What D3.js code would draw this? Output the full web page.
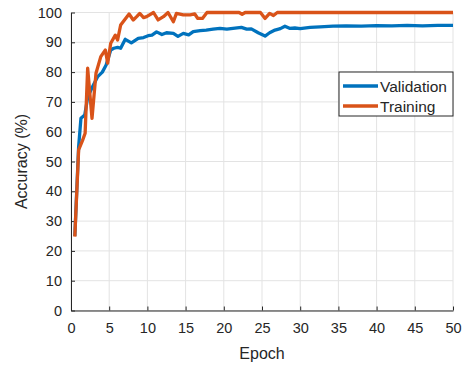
<!DOCTYPE html>
<html lang="en">
    <head>
        <meta charset="utf-8">
        <title>Accuracy vs Epoch</title>
        <script type="text/javascript" src="https://cdn.jsdelivr.net/npm/d3@7/dist/d3.min.js"></script>
    </head>

    <style>
        body { margin: 0; background: white; }
        text { font-family: "Liberation Sans", Arial, sans-serif; fill: #262626; }
    </style>

    <body>
        <script type="text/javascript">

            // Validation accuracy
            var valEpochs = [0.5, 1.0, 1.3, 1.8, 2.2, 2.8, 3.5, 4.1, 4.6, 5.2, 5.6, 6.1, 6.5, 7.1, 7.9,
                             8.8, 9.5, 10.1, 10.6, 11.2, 11.9, 12.5, 13.4, 14.0, 14.7, 15.4, 16.0, 16.9,
                             17.7, 18.6, 19.5, 20.4, 21.2, 22.3, 23.0, 23.6, 24.5, 25.4, 26.0, 26.7, 27.4,
                             28.0, 28.6, 29.3, 30.0, 31.3, 32.6, 34.3, 36, 38, 40, 42, 44, 46, 48, 50];
            var valAcc = [25, 55, 64.5, 65.6, 71.7, 75, 78.5, 80, 82.4, 87.4, 88, 88.3, 88, 91, 89.8,
                          91.3, 91.6, 92.2, 92.4, 93.5, 92.6, 93.2, 93, 92, 93, 92.5, 93.6, 93.9,
                          94.1, 94.4, 94.7, 94.4, 94.7, 95, 94.4, 94.5, 93.2, 92.1, 93.2, 94.1, 94.6,
                          95.4, 94.7, 94.8, 94.6, 95, 95.2, 95.4, 95.5, 95.4, 95.6, 95.5, 95.7, 95.5, 95.7, 95.7];

            // Training accuracy
            var trainEpochs = [0.5, 1.0, 1.5, 1.85, 2.18, 2.75, 3.27, 3.9, 4.5, 4.8, 5.2, 5.8, 6.1, 6.5,
                               6.85, 7.6, 8.15, 8.6, 9.0, 9.5, 9.9, 10.8, 11.4, 12.1, 12.7, 13.4, 13.8,
                               14.7, 15.6, 16.2, 16.6, 17.2, 17.8, 22.0, 22.4, 22.8, 24.8, 25.4, 26.0,
                               26.5, 27.0, 50];
            var trainAcc = [24.8, 53.9, 57, 59.5, 81.3, 64.5, 79.6, 85.2, 87.4, 83, 89.7, 92.4, 90.8, 95.8,
                            97, 99.5, 97.5, 98.6, 99.7, 98.3, 98.6, 100, 97.5, 98.6, 100, 96.9, 99.7,
                            99.2, 99.2, 99.5, 98, 98, 100, 100, 99.4, 100, 100, 98, 99.7,
                            99, 100, 100];

            var xTicks = [0, 5, 10, 15, 20, 25, 30, 35, 40, 45, 50];
            var yTicks = [0, 10, 20, 30, 40, 50, 60, 70, 80, 90, 100];
            var seriesNames = ["Validation", "Training"];
            var seriesColors = ["#0072BD", "#D95319"];

            var w = 462, h = 365;
            // plot box (note: "top" is a reserved window property, so use other names)
            var pLeft = 71, pRight = 453, pTop = 12.5, pBottom = 310.5;

            var svg = d3.select("body").append("svg").attr("width", w).attr("height", h);

            var x = d3.scaleLinear().domain([0, 50]).range([pLeft, pRight]);
            var y = d3.scaleLinear().domain([0, 100]).range([pBottom, pTop]);

            // grid lines
            svg.append("g").selectAll("line").data(xTicks).enter().append("line")
                .attr("x1", function(d) { return x(d); })
                .attr("x2", function(d) { return x(d); })
                .attr("y1", pTop).attr("y2", pBottom)
                .attr("stroke", "#e3e3e3").attr("stroke-width", 1);
            svg.append("g").selectAll("line").data(yTicks).enter().append("line")
                .attr("y1", function(d) { return y(d); })
                .attr("y2", function(d) { return y(d); })
                .attr("x1", pLeft).attr("x2", pRight)
                .attr("stroke", "#e3e3e3").attr("stroke-width", 1);

            // axes (ticks point inward like MATLAB)
            var xAxis = d3.axisBottom(x).tickValues(xTicks).tickSizeInner(-4).tickSizeOuter(0).tickPadding(12);
            var yAxis = d3.axisLeft(y).tickValues(yTicks).tickSizeInner(-4).tickSizeOuter(0).tickPadding(9);

            var gx = svg.append("g").attr("transform", "translate(0," + pBottom + ")").call(xAxis);
            var gy = svg.append("g").attr("transform", "translate(" + pLeft + ",0)").call(yAxis);
            [gx, gy].forEach(function(g) {
                g.select(".domain").attr("stroke", "#262626");
                g.selectAll(".tick line").attr("stroke", "#262626");
                g.selectAll("text").attr("font-size", 14.5).attr("fill", "#262626")
                    .attr("font-family", "Liberation Sans, Arial, sans-serif");
            });

            // lines
            var line = d3.line()
                .x(function(d) { return x(d[0]); })
                .y(function(d) { return y(d[1]); });

            var valData = d3.zip(valEpochs, valAcc);
            var trainData = d3.zip(trainEpochs, trainAcc);

            [valData, trainData].forEach(function(data, i) {
                svg.append("path").datum(data)
                    .attr("d", line)
                    .attr("fill", "none")
                    .attr("stroke", seriesColors[i])
                    .attr("stroke-width", 3.3)
                    .attr("stroke-linejoin", "round");
            });

            // axis labels
            svg.append("text").text("Epoch")
                .attr("x", (pLeft + pRight) / 2).attr("y", 359)
                .attr("text-anchor", "middle").attr("font-size", 16);
            svg.append("text").text("Accuracy (%)")
                .attr("transform", "translate(27," + ((pTop + pBottom) / 2) + ") rotate(-90)")
                .attr("text-anchor", "middle").attr("font-size", 16);

            // legend
            var lg = svg.append("g").attr("transform", "translate(339,72)");
            lg.append("rect").attr("width", 114).attr("height", 44)
                .attr("fill", "white").attr("stroke", "#262626").attr("stroke-width", 1);
            seriesNames.forEach(function(name, i) {
                var yy = 14 + i * 20;
                lg.append("line").attr("x1", 4).attr("x2", 39).attr("y1", yy).attr("y2", yy)
                    .attr("stroke", seriesColors[i]).attr("stroke-width", 3.3);
                lg.append("text").text(name).attr("x", 41).attr("y", yy + 5.5)
                    .attr("font-size", 15.5);
            });
        </script>
    </body>
</html>
